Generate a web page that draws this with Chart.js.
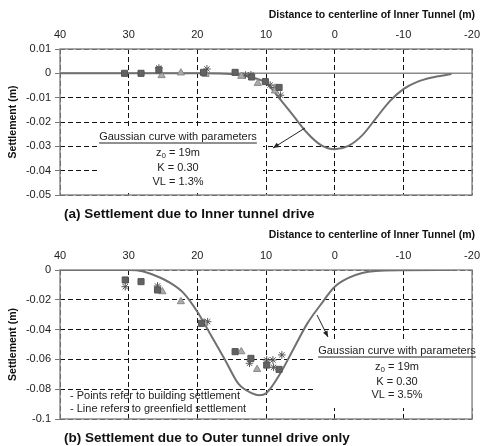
<!DOCTYPE html>
<html>
<head>
<meta charset="utf-8">
<script src="https://cdn.jsdelivr.net/npm/chart.js@4.4.0/dist/chart.umd.min.js"></script>
<style>
  body { margin: 0; background: #fff; width: 487px; height: 446px; position: relative; overflow: hidden;
         font-family: "Liberation Sans", Arial, sans-serif; }
  canvas { position: absolute; left: 0; }
  .cap { position: absolute; left: 64px; font-weight: bold; font-size: 13.5px; line-height: 15px; color: #111; white-space: nowrap; }
</style>
</head>
<body>
<canvas id="c1" width="487" height="220" style="top:0"></canvas>
<canvas id="c2" width="487" height="226" style="top:220px"></canvas>
<div class="cap" style="top:206px">(a) Settlement due to Inner tunnel drive</div>
<div class="cap" style="top:430px">(b) Settlement due to Outer tunnel drive only</div>
<script>
const xTitle = 'Distance to centerline of Inner Tunnel (m)';
const yTitle = 'Settlement (m)';
const xTicks = [40, 30, 20, 10, 0, -10, -20];
const yTicksA = [0.01, 0, -0.01, -0.02, -0.03, -0.04, -0.05];
const yTicksB = [0, -0.02, -0.04, -0.06, -0.08, -0.1];

// greenfield curves
const curveAx = [40, 20, 16, 14, 12, 10, 8, 6, 4, 2, 0, -2, -4, -6, -8, -10, -12, -14, -17];
const curveAy = [0, 0, -0.0002, -0.0006, -0.0017, -0.0040, -0.0105, -0.0175, -0.0245, -0.0295, -0.0312,
                 -0.0298, -0.0255, -0.0185, -0.0115, -0.0065, -0.0035, -0.0018, -0.0003];
const curveBx = [40, 30, 28, 26, 24, 22, 20, 19, 18, 16, 14, 12, 11, 10, 8, 6, 4, 2, 0, -2, -4, -6, -10, -17];
const curveBy = [0, 0, -0.0008, -0.004, -0.0085, -0.0155, -0.028, -0.0358, -0.044, -0.060, -0.0765, -0.0828,
                 -0.084, -0.0828, -0.070, -0.053, -0.036, -0.023, -0.0112, -0.0053, -0.002, -0.0006, -0.0001, 0];

// building points [distance, settlement]
const squaresA = [[30.6, 0], [28.2, 0], [25.6, 0.0014], [19.1, 0.0004], [14.5, 0.0004], [12.1, -0.0015], [10.1, -0.0034], [8.1, -0.0058]];
const trianglesA = [[25.2, -0.0009], [22.4, 0.0002], [18.8, -0.0004], [13.6, -0.0012], [11.2, -0.0041], [8.7, -0.0072]];
const starsA = [[25.6, 0.0022], [18.6, 0.0018], [13.0, -0.0007], [12.2, -0.0006], [9.4, -0.0048], [8.7, -0.0058], [7.9, -0.009]];

const squaresB = [[30.5, -0.0067], [28.2, -0.0078], [25.8, -0.0134], [19.4, -0.0358], [14.5, -0.0548], [12.2, -0.0593], [9.9, -0.0638], [8.1, -0.0667]];
const trianglesB = [[25.1, -0.0145], [22.4, -0.0212], [19.0, -0.0354], [13.6, -0.0548], [11.3, -0.0667]];
const starsB = [[30.5, -0.0112], [25.8, -0.0107], [18.5, -0.0347], [12.4, -0.0626], [9.9, -0.0604], [9.0, -0.0604], [8.9, -0.0653], [7.7, -0.057]];

const notesA = ['Gaussian curve with parameters', 'z|0| = 19m', 'K = 0.30', 'VL = 1.3%'];
const notesB = ['Gaussian curve with parameters', 'z|0| = 19m', 'K = 0.30', 'VL = 3.5%'];
const remarksB = ['- Points refer to building settlement', '- Line refers to greenfield settlement'];

const FONT = '"Liberation Sans", Arial, sans-serif';
Chart.defaults.font.family = FONT;

function pts(arr) { return arr.map(p => ({ x: p[0], y: p[1] })); }

function drawText(ctx, s, cx, cy) {
  // 'z|0| = 19m' -> z with subscript 0
  const parts = s.split('|');
  const big = '11px ' + FONT, small = '8px ' + FONT;
  let w = 0;
  parts.forEach((p, i) => { ctx.font = i === 1 ? small : big; w += ctx.measureText(p).width; });
  let x = cx - w / 2;
  ctx.textAlign = 'left';
  ctx.textBaseline = 'middle';
  parts.forEach((p, i) => {
    ctx.font = i === 1 ? small : big;
    ctx.fillText(p, x, i === 1 ? cy + 3 : cy);
    x += ctx.measureText(p).width;
  });
  return w;
}

function arrow(ctx, x1, y1, x2, y2) {
  ctx.beginPath(); ctx.moveTo(x1, y1); ctx.lineTo(x2, y2); ctx.stroke();
  const a = Math.atan2(y2 - y1, x2 - x1), L = 6, W = 2.5;
  ctx.beginPath();
  ctx.moveTo(x2, y2);
  ctx.lineTo(x2 - L * Math.cos(a) + W * Math.sin(a), y2 - L * Math.sin(a) - W * Math.cos(a));
  ctx.lineTo(x2 - L * Math.cos(a) - W * Math.sin(a), y2 - L * Math.sin(a) + W * Math.cos(a));
  ctx.closePath(); ctx.fill();
}

function makeDecor(d) {
  return {
    id: 'decor',
    beforeDatasetsDraw(chart) {
      const ctx = chart.ctx, a = chart.chartArea;
      ctx.save();
      ctx.fillStyle = '#fff';
      ctx.fillRect(d.box[0], d.box[1], d.box[2], d.box[3]);
      ctx.strokeStyle = '#8a8a8a';
      ctx.lineWidth = 1.5;
      if (d.zeroLine) {
        const y = chart.scales.y.getPixelForValue(0);
        ctx.beginPath(); ctx.moveTo(a.left, y); ctx.lineTo(a.right, y); ctx.stroke();
      }
      ctx.strokeRect(a.left, a.top, a.right - a.left, a.bottom - a.top);
      ctx.restore();
    },
    afterDraw(chart) {
      const ctx = chart.ctx;
      ctx.save();
      // top axis title, right aligned
      ctx.fillStyle = '#111';
      ctx.font = 'bold 10.5px ' + FONT;
      ctx.textAlign = 'right';
      ctx.textBaseline = 'middle';
      ctx.fillText(xTitle, 475, 15);

      ctx.fillStyle = '#222';
      ctx.strokeStyle = '#222';
      ctx.lineWidth = 1;
      d.notes.forEach((s, i) => {
        const w = drawText(ctx, s, d.cx, d.ys[i]);
        if (i === 0) {
          ctx.beginPath(); ctx.moveTo(d.cx - w / 2, d.ys[i] + 6.5); ctx.lineTo(d.cx + w / 2, d.ys[i] + 6.5); ctx.stroke();
        }
      });
      if (d.remarks) {
        ctx.font = '11px ' + FONT; ctx.textAlign = 'left'; ctx.textBaseline = 'middle';
        d.remarks.forEach((s, i) => ctx.fillText(s, d.rx, d.ry[i]));
      }
      arrow(ctx, d.arrow[0], d.arrow[1], d.arrow[2], d.arrow[3]);
      ctx.restore();
    }
  };
}

function makeChart(id, c) {
  const tickFont = { size: 11 };
  new Chart(document.getElementById(id), {
    type: 'scatter',
    data: {
      datasets: [
        { data: pts(c.sq), pointStyle: 'rect', pointRadius: 4.3, backgroundColor: '#626262', borderColor: '#555', borderWidth: 1, order: 0 },
        { data: pts(c.tr), pointStyle: 'triangle', pointRadius: 4.2, backgroundColor: '#ababab', borderColor: '#8a8a8a', borderWidth: 1, order: 0 },
        { data: pts(c.st), pointStyle: 'star', pointRadius: 3.8, backgroundColor: '#555', borderColor: '#555', borderWidth: 1, order: 0 },
        { data: c.cx.map((x, i) => ({ x, y: c.cy[i] })), showLine: true, borderColor: '#707070', borderWidth: 2,
          pointRadius: 0, cubicInterpolationMode: 'monotone', order: 1 }
      ]
    },
    options: {
      responsive: false,
      animation: false,
      layout: { padding: { left: 0, right: 7, top: 0, bottom: c.padBottom } },
      plugins: { legend: { display: false }, tooltip: { enabled: false } },
      scales: {
        x: {
          type: 'linear', position: 'top', reverse: true, min: -20, max: 40,
          afterBuildTicks: s => { s.ticks = xTicks.map(v => ({ value: v })); },
          afterFit: s => { s.height = c.top; },
          ticks: { padding: 7, color: '#222', font: tickFont, callback: v => String(v) },
          grid: { color: '#111', drawTicks: false, lineWidth: 1 },
          border: { display: false, dash: [5, 3] },
          title: { display: false }
        },
        y: {
          type: 'linear', min: c.yTicks[c.yTicks.length - 1], max: c.yTicks[0],
          afterBuildTicks: s => { s.ticks = c.yTicks.map(v => ({ value: v })); },
          afterFit: s => { s.width = 60; },
          ticks: { padding: 4, color: '#222', font: tickFont, callback: v => String(v) },
          grid: { color: '#111', tickColor: '#777', tickLength: 5, lineWidth: 1 },
          border: { display: false, dash: [5, 3] },
          title: { display: true, text: yTitle, color: '#111', font: { size: 10.5, weight: 'bold' }, padding: { top: 7, bottom: 0 } }
        }
      }
    },
    plugins: [makeDecor(c.decor)]
  });
}

makeChart('c1', {
  sq: squaresA, tr: trianglesA, st: starsA, cx: curveAx, cy: curveAy, yTicks: yTicksA,
  top: 49, padBottom: 25,
  decor: { box: [97, 127, 166, 66], zeroLine: true, notes: notesA, cx: 178, ys: [136.5, 153, 168, 182],
           arrow: [305, 128, 273, 148] }
});

makeChart('c2', {
  sq: squaresB, tr: trianglesB, st: starsB, cx: curveBx, cy: curveBy, yTicks: yTicksB,
  top: 50, padBottom: 27,
  decor: { box: [315, 122, 166, 66], zeroLine: false, notes: notesB, cx: 397, ys: [130.5, 146.5, 161.5, 175],
           remarks: remarksB, rx: 70, ry: [176, 188.5], arrow: [317, 95, 328, 117] }
});
</script>
</body>
</html>
